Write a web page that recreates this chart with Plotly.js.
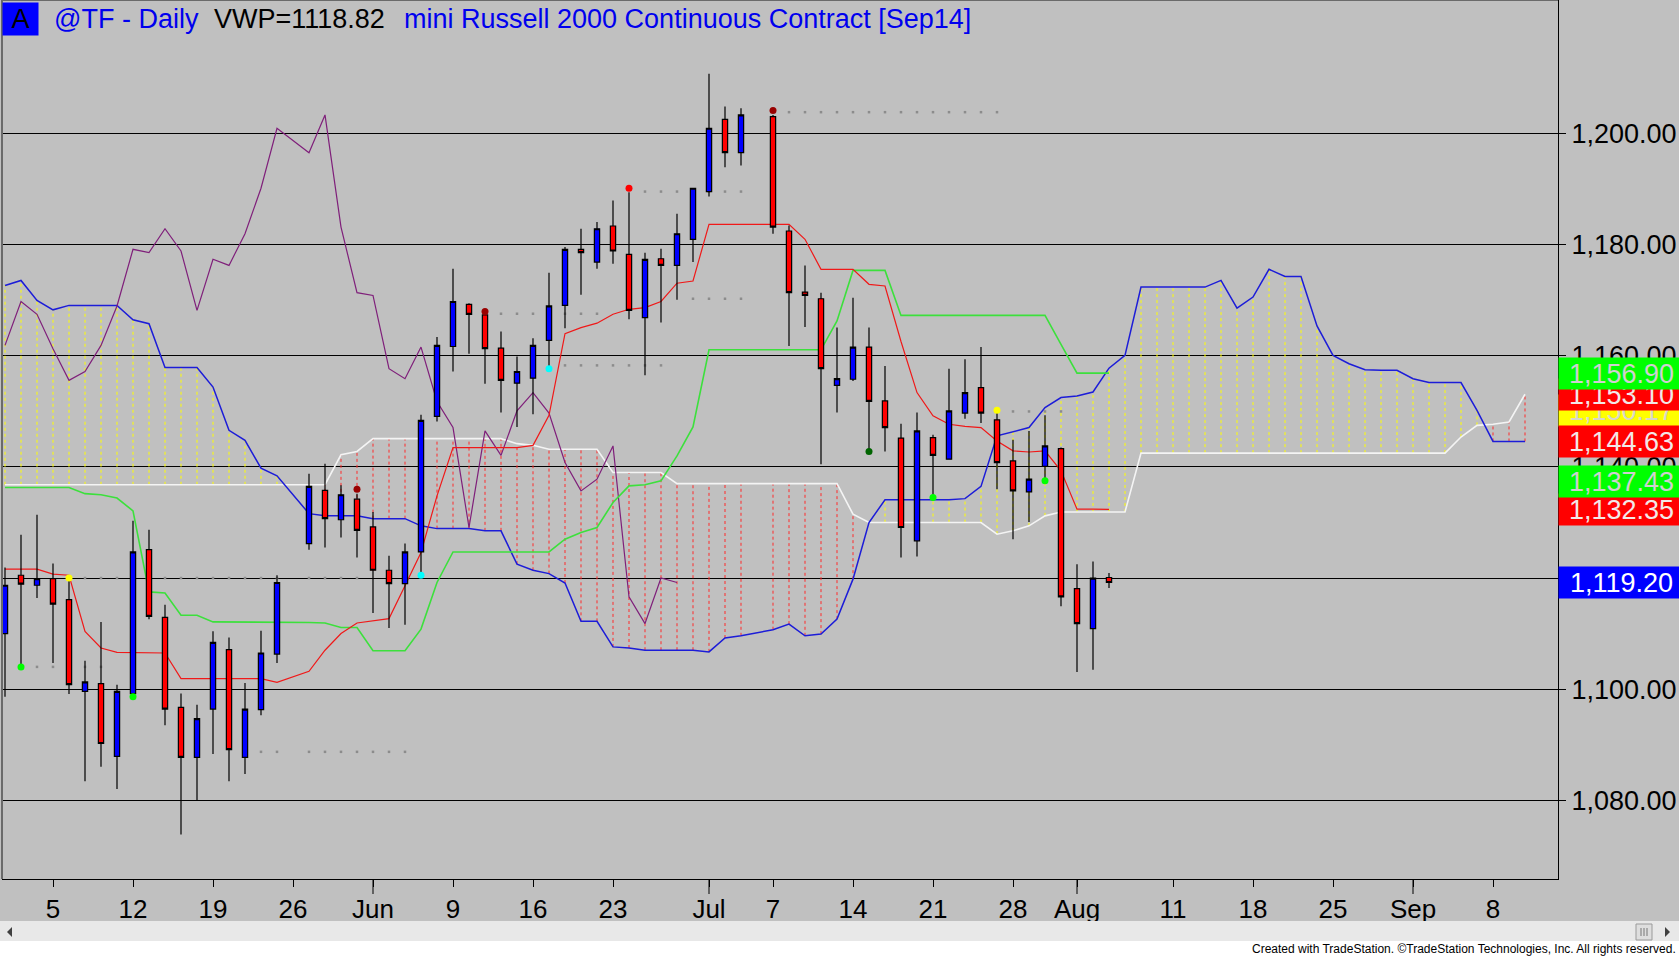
<!DOCTYPE html>
<html>
<head>
<meta charset="utf-8">
<script src="https://cdn.plot.ly/plotly-3.0.1.min.js"></script>
<style>
html, body { margin: 0; padding: 0; background: #c0c0c0; }
#chart { width: 1679px; height: 957px; }
</style>
</head>
<body>
<div id="chart"></div>
<script>
// daily bars, @TF mini Russell 2000
var barDates = ['2014-04-30','2014-05-01','2014-05-02','2014-05-05','2014-05-06','2014-05-07','2014-05-08','2014-05-09',
  '2014-05-12','2014-05-13','2014-05-14','2014-05-15','2014-05-16','2014-05-19','2014-05-20','2014-05-21','2014-05-22','2014-05-23',
  '2014-05-27','2014-05-28','2014-05-29','2014-05-30','2014-06-02','2014-06-03','2014-06-04','2014-06-05','2014-06-06',
  '2014-06-09','2014-06-10','2014-06-11','2014-06-12','2014-06-13','2014-06-16','2014-06-17','2014-06-18','2014-06-19','2014-06-20',
  '2014-06-23','2014-06-24','2014-06-25','2014-06-26','2014-06-27','2014-06-30','2014-07-01','2014-07-02','2014-07-03',
  '2014-07-07','2014-07-08','2014-07-09','2014-07-10','2014-07-11','2014-07-14','2014-07-15','2014-07-16','2014-07-17','2014-07-18',
  '2014-07-21','2014-07-22','2014-07-23','2014-07-24','2014-07-25','2014-07-28','2014-07-29','2014-07-30','2014-07-31','2014-08-01',
  '2014-08-04','2014-08-05'];

var opens = [1110.0,1120.5,1118.7,1119.9,1116.1,1099.6,1101.0,1087.9,1099.2,1125.1,
  1112.9,1096.7,1087.7,1096.4,1107.1,1087.7,1096.3,1106.3,1126.2,1135.8,
  1130.5,1134.2,1129.2,1121.4,1119.0,1124.7,1149.1,1161.7,1169.3,1167.4,
  1161.4,1155.1,1156.0,1162.8,1169.1,1179.2,1176.9,1183.4,1178.3,1166.9,
  1177.5,1176.3,1181.0,1189.6,1202.6,1196.6,1203.1,1182.5,1171.5,1170.3,
  1154.7,1155.8,1161.6,1151.9,1145.2,1126.7,1145.3,1141.4,1149.7,1154.3,
  1148.5,1141.1,1135.5,1140.1,1143.3,1118.1,1110.9,1120.1];
var highs = [1121.9,1127.8,1131.4,1122.6,1120.5,1105.1,1112.1,1100.8,1130.3,1128.7,
  1115.2,1099.2,1097.2,1110.4,1109.3,1101.1,1110.5,1120.5,1138.8,1140.6,
  1136.7,1135.2,1131.9,1124.0,1126.2,1149.4,1163.4,1175.7,1169.5,1168.1,
  1164.4,1159.9,1163.2,1175.0,1179.6,1182.9,1184.1,1188.0,1189.5,1178.6,
  1179.3,1185.6,1190.2,1210.8,1204.9,1204.6,1203.4,1183.5,1176.3,1171.4,
  1165.1,1170.5,1165.1,1158.2,1147.8,1149.8,1145.8,1157.7,1159.4,1161.6,
  1149.8,1144.9,1146.5,1149.3,1143.5,1122.5,1123.0,1120.9];
var lows = [1098.6,1104.0,1116.4,1104.7,1099.1,1083.4,1086.0,1082.0,1098.6,1112.6,
  1093.5,1073.8,1080.0,1088.3,1083.4,1084.7,1095.3,1104.7,1125.1,1125.5,
  1127.3,1123.7,1113.7,1111.0,1111.6,1120.5,1148.2,1157.2,1160.4,1155.0,
  1149.8,1147.2,1149.5,1157.7,1165.0,1171.0,1175.7,1176.6,1166.6,1156.5,
  1166.0,1170.1,1176.9,1188.7,1194.0,1194.3,1182.0,1161.8,1165.2,1140.5,
  1149.8,1155.5,1142.6,1142.8,1123.7,1123.9,1134.5,1141.4,1148.7,1147.9,
  1136.0,1127.0,1130.1,1137.8,1114.9,1103.1,1103.5,1118.2];
var closes = [1118.7,1118.9,1119.9,1115.3,1100.8,1101.3,1090.2,1099.6,1124.7,1113.1,
  1096.4,1087.7,1094.7,1108.4,1089.1,1096.4,1106.5,1119.2,1136.5,1130.7,
  1135.0,1128.6,1121.4,1119.0,1124.7,1148.4,1161.9,1169.8,1167.5,1161.3,
  1155.6,1157.2,1161.9,1169.0,1179.2,1178.6,1182.9,1178.9,1168.2,1177.4,
  1176.3,1182.0,1190.2,1201.0,1196.6,1203.4,1183.2,1171.4,1170.9,1157.7,
  1155.9,1161.6,1151.8,1147.1,1129.1,1146.5,1142.1,1150.1,1153.4,1149.7,
  1140.8,1135.7,1137.8,1143.8,1116.6,1111.8,1120.0,1119.2];

// ichimoku lines, read per bar
var tenkan = [1121.6,1121.6,1121.6,1120.7,1120.5,1110.4,1107.4,1106.6,1106.6,1106.6,
  1106.5,1101.9,1101.9,1101.9,1101.9,1101.9,1101.9,1101.2,1103.2,1107.0,
  1110.0,1111.9,1112.3,1112.7,1118.6,1124.6,1134.8,1143.5,1143.5,1143.5,
  1143.5,1143.5,1143.9,1149.3,1164.0,1165.1,1165.9,1167.5,1168.4,1168.7,
  1169.8,1173.1,1173.5,1183.7,1183.7,1183.7,1183.7,1183.7,1181.0,1175.6,
  1175.6,1175.6,1172.9,1172.6,1162.6,1153.4,1149.2,1147.7,1147.3,1147.1,
  1144.7,1142.9,1142.7,1142.9,1139.3,1132.4,1132.4,1132.35];
var kijun = [1136.3,1136.3,1136.3,1136.3,1136.3,1135.2,1135.0,1134.4,1132.1,1117.5,
  1117.3,1113.3,1113.3,1112.1,1112.1,1112.1,1112.1,1112.1,1112.0,1111.9,
  1111.1,1111.1,1106.9,1106.9,1106.9,1110.8,1119.2,1124.7,1124.7,1124.7,
  1124.7,1124.7,1124.7,1124.7,1127.0,1128.2,1129.1,1133.6,1136.6,1136.8,
  1137.5,1142.0,1147.2,1161.1,1161.1,1161.1,1161.1,1161.1,1161.1,1161.1,
  1166.3,1175.4,1175.4,1175.4,1167.3,1167.3,1167.3,1167.3,1167.3,1167.3,
  1167.3,1167.3,1167.3,1167.3,1162.1,1156.9,1156.9,1156.9];

// cloud runs 26 bars past the last bar
var futureDates = ['2014-08-06','2014-08-07','2014-08-08','2014-08-11','2014-08-12','2014-08-13','2014-08-14','2014-08-15',
  '2014-08-18','2014-08-19','2014-08-20','2014-08-21','2014-08-22','2014-08-25','2014-08-26','2014-08-27','2014-08-28','2014-08-29',
  '2014-09-01','2014-09-02','2014-09-03','2014-09-04','2014-09-05','2014-09-08','2014-09-09','2014-09-10'];
var senkouA = [1172.7,1173.6,1170.0,1168.3,1169.1,1169.1,1169.1,1169.1,1166.5,1165.8,
  1157.9,1157.9,1157.9,1154.4,1146.6,1144.8,1139.8,1138.4,1131.6,1131.2,
  1131.2,1131.2,1130.7,1130.7,1130.7,1129.4,1128.9,1128.9,1128.9,1128.5,
  1128.5,1122.5,1121.4,1120.8,1119.1,1112.2,1112.2,1107.6,1107.4,1107.0,
  1107.0,1107.0,1107.0,1106.7,1109.2,1109.6,1110.7,1111.7,1109.6,1109.9,
  1112.6,1119.8,1130.0,1134.1,1134.1,1134.1,1134.1,1134.1,1134.3,1136.5,
  1145.6,1146.3,1147.1,1150.7,1152.5,1152.8,1153.5,1157.8,
  1160.1,1172.4,1172.4,1172.4,1172.4,1172.4,1173.6,1168.6,1170.6,1175.6,
  1174.3,1174.3,1165.4,1160.1,1158.6,1157.5,1157.4,1157.4,1155.9,1155.2,
  1155.2,1155.2,1150.2,1144.6,1144.6,1144.6];
var senkouB = [1136.8,1136.8,1136.8,1136.8,1136.8,1136.8,1136.8,1136.8,1136.8,1136.8,
  1136.8,1136.8,1136.8,1136.8,1136.8,1136.8,1136.8,1136.8,1136.8,1136.8,
  1142.2,1142.8,1145.1,1145.1,1145.1,1145.1,1145.1,1145.1,1145.1,1145.1,
  1145.1,1144.2,1143.9,1143.2,1143.2,1143.2,1143.2,1139.0,1139.0,1139.0,
  1139.0,1137.0,1137.0,1137.0,1137.0,1137.0,1137.0,1137.0,1137.0,1137.0,
  1137.0,1131.5,1130.0,1130.0,1130.0,1130.0,1130.0,1130.0,1130.0,1130.0,
  1127.9,1128.5,1129.4,1131.2,1131.9,1131.9,1131.9,1131.9,
  1131.9,1142.5,1142.5,1142.5,1142.5,1142.5,1142.5,1142.5,1142.5,1142.5,
  1142.5,1142.5,1142.5,1142.5,1142.5,1142.5,1142.5,1142.5,1142.5,1142.5,
  1142.5,1145.4,1147.5,1147.7,1148.1,1153.1];
var lagShift = 26;

// signal dots and the dotted levels they leave behind
var dotDates = ['2014-05-01','2014-05-06','2014-05-12','2014-05-30','2014-06-05','2014-06-11','2014-06-17',
  '2014-06-24','2014-07-07','2014-07-15','2014-07-21','2014-07-25','2014-07-30'];
var dotPrices = [1104.0,1120.0,1098.6,1136.0,1120.5,1168.0,1157.7,1190.2,1204.2,1142.8,1134.5,1150.2,1137.5];
var dotColors = ['#00ff00','#ffff00','#00ff00','#990000','#00ffff','#990000','#00ffff',
  '#ff0000','#990000','#006400','#00ff00','#ffff00','#00ff00'];
var levelStart = ['2014-05-02','2014-05-07','2014-05-21','2014-06-12','2014-06-18','2014-06-25','2014-06-30','2014-07-08','2014-07-28'];
var levelEnd = ['2014-05-08','2014-05-30','2014-06-04','2014-06-20','2014-06-26','2014-07-03','2014-07-03','2014-07-25','2014-07-31'];
var levelPrice = [1104.0,1120.0,1088.7,1167.6,1158.3,1189.6,1170.3,1203.9,1150.0];

// last-value boxes on the price scale (drawn in this order)
var lastValues = [1150.17, 1153.10, 1156.90, 1144.63, 1132.35, 1137.43, 1119.20];
var lastColors = ['#ffff00','#ff0000','#00ff00','#ff0000','#ff0000','#00ff00','#0000ff'];
var lastText = ['#d8d8c8','#f2e8e8','#d0d0d0','#f2e8e8','#f2e8e8','#d0d0d0','#ffffff'];

var tickDates = ['2014-05-05','2014-05-12','2014-05-19','2014-05-26','2014-06-02','2014-06-09','2014-06-16','2014-06-23',
  '2014-07-01','2014-07-07','2014-07-14','2014-07-21','2014-07-28','2014-08-01','2014-08-11','2014-08-18','2014-08-25',
  '2014-09-01','2014-09-08'];
var tickLabels = ['5','12','19','26','Jun','9','16','23','Jul','7','14','21','28','Aug','11','18','25','Sep','8'];
var monthStarts = ['2014-06-02','2014-07-01','2014-08-01','2014-09-01'];
var priceTicks = [1080, 1100, 1120, 1140, 1160, 1180, 1200];

var FONT = 'Liberation Sans, Arial, sans-serif';
var W = 1679, H = 957, ML = 2, MR = 121, MT = 0, MB = 78;
var plotW = W - ML - MR, plotH = H - MT - MB;
function px(x) { return (x - ML) / plotW; }
function py(y) { return 1 - (y - MT) / plotH; }
function money(v) { return v.toFixed(2).replace(/^(\d)(\d{3})/, '$1,$2'); }

var allDates = barDates.concat(futureDates);

// vertical dashes filling the cloud
var yelX = [], yelY = [], redX = [], redY = [];
allDates.forEach(function (d, i) {
    var a = senkouA[i], b = senkouB[i];
    if (a === b) return;
    if (a > b) { yelX.push(d, d, null); yelY.push(b, a, null); }
    else { redX.push(d, d, null); redY.push(a, b, null); }
});

var lvX = [], lvY = [];
levelPrice.forEach(function (p, j) {
    barDates.forEach(function (d) {
        if (d >= levelStart[j] && d <= levelEnd[j]) { lvX.push(d); lvY.push(p); }
    });
});

function line(x, y, color, width) {
    return { type: 'scatter', mode: 'lines', x: x, y: y, line: { color: color, width: width },
        hoverinfo: 'skip', showlegend: false, connectgaps: true };
}

var data = [
    { type: 'scatter', mode: 'lines', x: yelX, y: yelY, line: { color: '#ffff00', width: 1, dash: '3px,3px' }, hoverinfo: 'skip' },
    { type: 'scatter', mode: 'lines', x: redX, y: redY, line: { color: '#ff2a2a', width: 1, dash: '3px,3px' }, hoverinfo: 'skip' },
    { type: 'scatter', mode: 'markers', x: lvX, y: lvY, marker: { color: '#8c8c8c', size: 2.5, symbol: 'square' }, hoverinfo: 'skip' },
    line(allDates, senkouB, '#f4f4f4', 1.6),
    line(allDates, senkouA, '#1c1cd8', 1.5),
    line(barDates.slice(0, barDates.length - lagShift), closes.slice(lagShift), '#7f1f7a', 1.2),
    line(barDates, kijun, '#3ce03c', 1.6),
    line(barDates, tenkan, '#f01818', 1.2),
    {
        type: 'candlestick', xaxis: 'x2', yaxis: 'y2',
        x: barDates, open: opens, high: highs, low: lows, close: closes,
        increasing: { line: { color: '#000000', width: 1.2 }, fillcolor: '#0000ff' },
        decreasing: { line: { color: '#000000', width: 1.2 }, fillcolor: '#ff0000' },
        whiskerwidth: 0, hoverinfo: 'skip', showlegend: false
    },
    { type: 'scatter', mode: 'markers', xaxis: 'x2', yaxis: 'y2', x: dotDates, y: dotPrices,
        marker: { color: dotColors, size: 7 }, hoverinfo: 'skip' }
];

var xRange = ['2014-04-29 19:30', '2014-09-12 01:30'];
var yRange = [1065.8, 1224.1];
var breaks = [{ bounds: ['sat', 'mon'] }];

var annotations = [
    { xref: 'paper', yref: 'paper', x: px(2), y: py(2), xanchor: 'left', yanchor: 'top', text: 'A',
      bgcolor: '#0000ff', width: 35, height: 32, borderpad: 0, showarrow: false, font: { family: FONT, size: 27, color: '#000' } },
    { xref: 'paper', yref: 'paper', x: px(52), y: py(19), xanchor: 'left', yanchor: 'middle', text: '@TF - Daily',
      showarrow: false, font: { family: FONT, size: 27, color: '#0000ee' } },
    { xref: 'paper', yref: 'paper', x: px(212), y: py(19), xanchor: 'left', yanchor: 'middle', text: 'VWP=1118.82',
      showarrow: false, font: { family: FONT, size: 27, color: '#000' } },
    { xref: 'paper', yref: 'paper', x: px(402), y: py(19), xanchor: 'left', yanchor: 'middle', text: 'mini Russell 2000 Continuous Contract [Sep14]',
      showarrow: false, font: { family: FONT, size: 27, color: '#0000ee' } },
    { xref: 'paper', yref: 'paper', x: px(1678), y: py(949), xanchor: 'right', yanchor: 'middle',
      text: 'Created with TradeStation. \u00A9TradeStation Technologies, Inc. All rights reserved.',
      showarrow: false, font: { family: 'Liberation Sans Narrow, Liberation Sans, Arial, sans-serif', size: 12, color: '#000' } }
];
lastValues.forEach(function (v, i) {
    annotations.push({ xref: 'paper', yref: 'y', x: 1, y: v, xanchor: 'left', yanchor: 'middle', text: money(v),
        bgcolor: lastColors[i], width: 125, height: 31, borderpad: 0, align: 'center', showarrow: false,
        font: { family: FONT, size: 27, color: lastText[i] } });
});

var shapes = [
    { type: 'rect', xref: 'paper', yref: 'paper', x0: px(0), x1: px(W), y0: py(921), y1: py(H), fillcolor: '#ffffff', line: { width: 0 } },
    { type: 'rect', xref: 'paper', yref: 'paper', x0: px(0), x1: px(W), y0: py(921), y1: py(941), fillcolor: '#e8e8e8', line: { width: 0 } },
    { type: 'rect', xref: 'paper', yref: 'paper', x0: px(1636), x1: px(1652), y0: py(924), y1: py(940), fillcolor: '#dedede', line: { color: '#9a9a9a', width: 1 } },
    { type: 'path', xref: 'paper', yref: 'paper', path: 'M' + px(12) + ',' + py(927) + ' L' + px(7) + ',' + py(932) + ' L' + px(12) + ',' + py(937) + ' Z',
      fillcolor: '#404040', line: { width: 0 } },
    { type: 'path', xref: 'paper', yref: 'paper', path: 'M' + px(1665) + ',' + py(927) + ' L' + px(1670) + ',' + py(932) + ' L' + px(1665) + ',' + py(937) + ' Z',
      fillcolor: '#404040', line: { width: 0 } },
    { type: 'line', xref: 'paper', yref: 'paper', x0: 0, x1: 0, y0: 0, y1: 1, line: { color: '#6a6a6a', width: 2 } },
    { type: 'line', xref: 'paper', yref: 'paper', x0: 0, x1: 1, y0: 1, y1: 1, line: { color: '#6a6a6a', width: 2 } }
];
[1641, 1644, 1647].forEach(function (x) {
    shapes.push({ type: 'line', xref: 'paper', yref: 'paper', x0: px(x), x1: px(x), y0: py(928), y1: py(936), line: { color: '#777', width: 1 } });
});
monthStarts.forEach(function (d) {
    shapes.push({ type: 'line', xref: 'x', yref: 'paper', x0: d, x1: d, y0: 0, y1: py(894), line: { color: '#000', width: 1 } });
});

var layout = {
    width: W, height: H,
    margin: { l: ML, r: MR, t: MT, b: MB, pad: 0 },
    paper_bgcolor: '#c0c0c0', plot_bgcolor: '#c0c0c0',
    showlegend: false, hovermode: false, boxgap: 0.53,
    font: { family: FONT, size: 26, color: '#000' },
    xaxis: {
        type: 'date', range: xRange, rangebreaks: breaks, rangeslider: { visible: false },
        tickvals: tickDates, ticktext: tickLabels, ticks: 'outside', ticklen: 7, tickcolor: '#000',
        tickfont: { family: FONT, size: 26, color: '#000' },
        showgrid: false, showline: true, linecolor: '#000', linewidth: 1, zeroline: false, fixedrange: true
    },
    yaxis: {
        side: 'right', range: yRange, tickvals: priceTicks, tickformat: ',.2f', ticks: 'outside', ticklen: 7, tickcolor: '#000',
        tickfont: { family: FONT, size: 27, color: '#000' },
        showgrid: true, gridcolor: '#000', gridwidth: 1, showline: true, linecolor: '#000', linewidth: 1,
        zeroline: false, fixedrange: true
    },
    // overlay pair so the candles sit above the ichimoku lines; kept "visible" so the weekend breaks apply
    xaxis2: { type: 'date', overlaying: 'x', range: xRange, rangebreaks: breaks, rangeslider: { visible: false },
        showticklabels: false, ticks: '', showline: false, showgrid: false, zeroline: false, fixedrange: true },
    yaxis2: { overlaying: 'y', side: 'right', range: yRange, showticklabels: false, ticks: '', showline: false,
        showgrid: false, zeroline: false, fixedrange: true },
    annotations: annotations,
    shapes: shapes
};

Plotly.newPlot('chart', data, layout, { staticPlot: true, displayModeBar: false });
</script>
</body>
</html>
